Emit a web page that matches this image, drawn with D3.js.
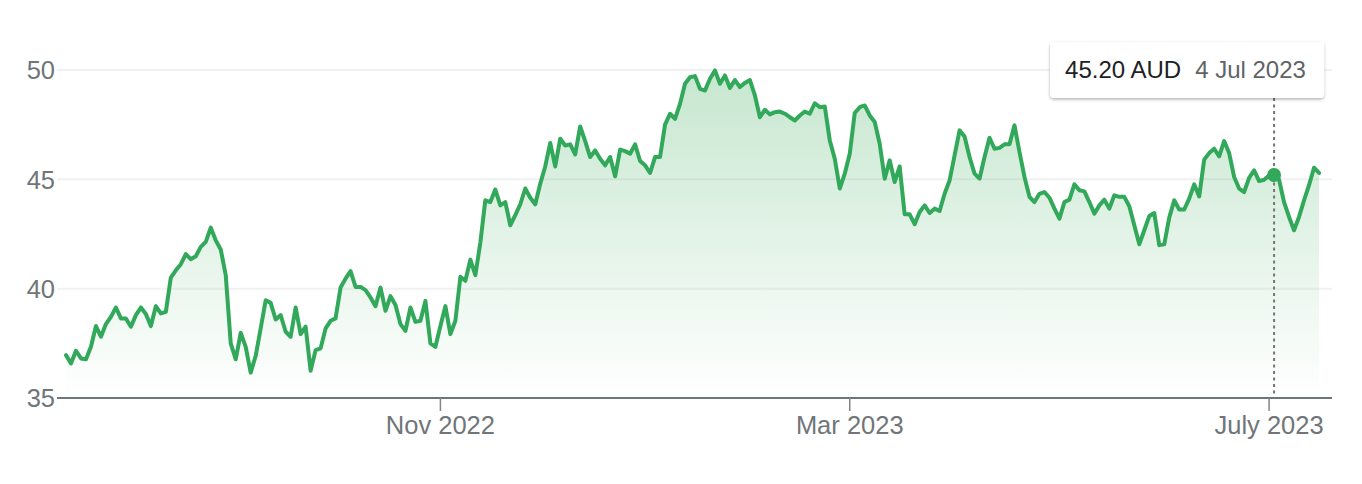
<!DOCTYPE html>
<html>
<head>
<meta charset="utf-8">
<script src="https://cdn.jsdelivr.net/npm/d3@7"></script>
<style>
	body { margin: 0; background: #fff; }
	text { font-family: "Liberation Sans", Arial, sans-serif; }
</style>
</head>
<body>
<div id="chart"></div>
<script>
// trading days: weekdays between these dates, minus market holidays
var start_date = "2022-07-18",
	end_date = "2023-07-17";
var holidays = ["2022-09-22", "2022-12-26", "2022-12-27", "2023-01-02", "2023-01-26",
	"2023-04-07", "2023-04-10", "2023-04-25", "2023-06-12"];

// closing price (AUD), one per trading day
var closes = [
	36.96, 36.58, 37.16, 36.81, 36.77, 37.34, 38.29, 37.80, 38.38, 38.71,
	39.14, 38.64, 38.64, 38.26, 38.79, 39.14, 38.84, 38.29, 39.20, 38.87,
	38.94, 40.51, 40.84, 41.12, 41.58, 41.35, 41.48, 41.91, 42.14, 42.79,
	42.21, 41.79, 40.62, 37.50, 36.77, 37.98, 37.34, 36.16, 36.93, 38.18,
	39.47, 39.35, 38.59, 38.79, 38.03, 37.80, 39.14, 37.92, 38.26, 36.25,
	37.19, 37.27, 38.18, 38.53, 38.64, 40.05, 40.46, 40.80, 40.08, 40.08,
	39.93, 39.60, 39.20, 40.05, 38.99, 39.66, 39.25, 38.38, 38.07, 39.14,
	38.48, 38.53, 39.44, 37.50, 37.34, 38.29, 39.20, 37.92, 38.53, 40.54,
	40.36, 41.33, 40.62, 42.10, 44.04, 43.96, 44.53, 43.81, 43.96, 42.90,
	43.36, 43.86, 44.58, 44.16, 43.86, 44.80, 45.59, 46.66, 45.59, 46.86,
	46.55, 46.60, 46.14, 47.42, 46.75, 46.02, 46.32, 45.94, 45.64, 46.02,
	45.14, 46.36, 46.29, 46.17, 46.60, 45.84, 45.64, 45.29, 46.02, 46.02,
	47.50, 48.00, 47.77, 48.45, 49.37, 49.67, 49.72, 49.14, 49.06, 49.60,
	49.98, 49.37, 49.75, 49.18, 49.54, 49.22, 49.41, 49.54, 48.84, 47.84,
	48.18, 47.97, 48.07, 48.10, 48.00, 47.84, 47.69, 47.92, 48.10, 48.00,
	48.48, 48.30, 48.33, 46.78, 45.94, 44.58, 45.26, 46.17, 48.03, 48.30,
	48.38, 47.92, 47.62, 46.63, 45.03, 45.87, 44.88, 45.59, 43.40, 43.40,
	42.95, 43.51, 43.81, 43.46, 43.66, 43.55, 44.34, 44.95, 46.10, 47.24,
	46.96, 46.02, 45.26, 45.03, 46.02, 46.90, 46.40, 46.44, 46.60, 46.60,
	47.47, 46.25, 45.11, 44.20, 43.96, 44.34, 44.42, 44.16, 43.66, 43.20,
	43.96, 44.07, 44.77, 44.50, 44.45, 43.96, 43.43, 43.81, 44.07, 43.66,
	44.27, 44.20, 44.20, 43.77, 42.90, 42.03, 42.67, 43.32, 43.46, 41.99,
	42.03, 43.25, 44.04, 43.62, 43.62, 44.12, 44.77, 44.22, 45.90, 46.20,
	46.40, 46.05, 46.75, 46.20, 45.11, 44.58, 44.42, 45.07, 45.41, 44.92,
	44.98, 45.18, 45.20, 44.98, 43.96, 43.28, 42.67, 43.28, 44.04, 44.73,
	45.53, 45.29
];

var y_ticks = [35, 40, 45, 50];
var x_tick_months = ["2022-11", "2023-03", "2023-07"];
var x_tick_labels = ["Nov 2022", "Mar 2023", "July 2023"];
var hover_date = "2023-07-04",
	currency = "AUD";

var chart_width = 1362,
	chart_height = 484;

var fmt = d3.timeFormat("%Y-%m-%d"),
	parse = d3.timeParse("%Y-%m-%d");

var days = d3.timeDay.range(parse(start_date), d3.timeDay.offset(parse(end_date), 1))
	.filter(function(d) {
		return d.getDay() != 0 && d.getDay() != 6 && holidays.indexOf(fmt(d)) < 0;
	})
	.map(fmt);

var data = days.map(function(d, i) {
	return { date: d, value: closes[i] };
});

var x = d3.scalePoint()
	.domain(days)
	.range([66, 1319]);

var y = d3.scaleLinear()
	.domain([35, 50])
	.range([398, 70]);

var left = 57, right = 1332;

var svg = d3.select("#chart")
	.append("svg")
		.attr("width", chart_width)
		.attr("height", chart_height);

var defs = svg.append("defs");
var grad = defs.append("linearGradient")
	.attr("id", "fill")
	.attr("gradientUnits", "userSpaceOnUse")
	.attr("x1", 0).attr("x2", 0)
	.attr("y1", y(d3.max(closes))).attr("y2", y(35));
grad.append("stop").attr("offset", 0).attr("stop-color", "#34a853").attr("stop-opacity", 0.28);
grad.append("stop").attr("offset", 1).attr("stop-color", "#34a853").attr("stop-opacity", 0.0);

var shadow = defs.append("filter")
	.attr("id", "shadow")
	.attr("x", "-10%").attr("y", "-30%")
	.attr("width", "120%").attr("height", "170%");
shadow.append("feDropShadow")
	.attr("dx", 0).attr("dy", 1.5)
	.attr("stdDeviation", 1.8)
	.attr("flood-color", "#000")
	.attr("flood-opacity", 0.3);

// gridlines
svg.selectAll("line.grid")
	.data(y_ticks.slice(1))
	.enter()
	.append("line")
	.attr("class", "grid")
	.attr("x1", left)
	.attr("x2", right)
	.attr("y1", function(d) { return y(d); })
	.attr("y2", function(d) { return y(d); })
	.attr("stroke", "#f1f1f1")
	.attr("stroke-width", 2);

// y labels
svg.selectAll("text.ylab")
	.data(y_ticks)
	.enter()
	.append("text")
	.attr("class", "ylab")
	.text(function(d) { return d; })
	.attr("x", 55)
	.attr("y", function(d) { return y(d); })
	.attr("dy", "0.36em")
	.attr("text-anchor", "end")
	.attr("fill", "#70757a")
	.attr("font-size", 25.5);

// area + line
var area = d3.area()
	.x(function(d) { return x(d.date); })
	.y0(y(35))
	.y1(function(d) { return y(d.value); });

var line = d3.line()
	.x(function(d) { return x(d.date); })
	.y(function(d) { return y(d.value); });

svg.append("path")
	.datum(data)
	.attr("d", area)
	.attr("fill", "url(#fill)");

// baseline
svg.append("line")
	.attr("x1", left)
	.attr("x2", right)
	.attr("y1", y(35))
	.attr("y2", y(35))
	.attr("stroke", "#70757a")
	.attr("stroke-width", 2);

// x ticks at first trading day of the month
var tick_days = x_tick_months.map(function(m) {
	return days.find(function(d) { return d.slice(0, 7) == m; });
});

svg.selectAll("line.xtick")
	.data(tick_days)
	.enter()
	.append("line")
	.attr("class", "xtick")
	.attr("x1", function(d) { return x(d); })
	.attr("x2", function(d) { return x(d); })
	.attr("y1", y(35))
	.attr("y2", y(35) + 13)
	.attr("stroke", "#80868b")
	.attr("stroke-width", 1.5);

svg.selectAll("text.xlab")
	.data(tick_days)
	.enter()
	.append("text")
	.attr("class", "xlab")
	.text(function(d, i) { return x_tick_labels[i]; })
	.attr("x", function(d) { return x(d); })
	.attr("y", 434)
	.attr("text-anchor", "middle")
	.attr("fill", "#70757a")
	.attr("font-size", 25.5);

// hover marker
var hover = data.find(function(d) { return d.date == hover_date; });
var hx = x(hover.date);

svg.append("line")
	.attr("x1", hx)
	.attr("x2", hx)
	.attr("y1", 98)
	.attr("y2", y(35))
	.attr("stroke", "#757575")
	.attr("stroke-width", 2)
	.attr("stroke-dasharray", "3,3.5");

svg.append("path")
	.datum(data)
	.attr("d", line)
	.attr("fill", "none")
	.attr("stroke", "#31a85a")
	.attr("stroke-width", 4)
	.attr("stroke-linejoin", "round")
	.attr("stroke-linecap", "round");

svg.append("circle")
	.attr("cx", hx)
	.attr("cy", y(hover.value))
	.attr("r", 7)
	.attr("fill", "#31a85a");

// tooltip
var tip = svg.append("g")
	.attr("transform", "translate(" + (hx - 224) + ",42)");

tip.append("rect")
	.attr("width", 274)
	.attr("height", 56)
	.attr("rx", 4)
	.attr("fill", "#fff")
	.attr("filter", "url(#shadow)");

var vtext = tip.append("text")
	.text(d3.format(".2f")(hover.value) + " " + currency)
	.attr("x", 15)
	.attr("y", 36)
	.attr("fill", "#202124")
	.attr("font-size", 24);

var vw = vtext.node().getComputedTextLength();

tip.append("text")
	.text(d3.timeFormat("%-d %b %Y")(parse(hover.date)))
	.attr("x", 15 + vw + 14)
	.attr("y", 36)
	.attr("fill", "#5f6368")
	.attr("font-size", 24);
</script>
</body>
</html>
